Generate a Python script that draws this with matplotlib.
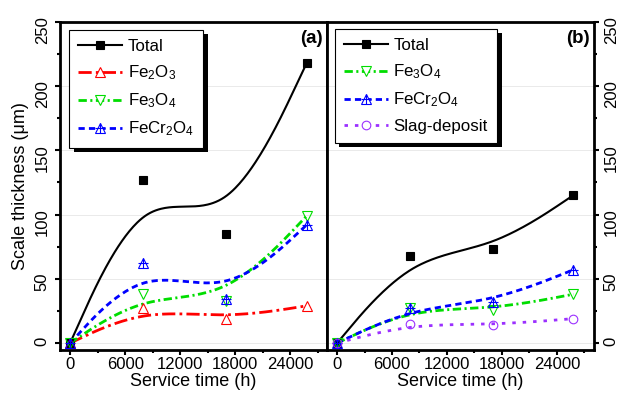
import numpy as np #Para arreglos
import matplotlib.pyplot as plt #Para graficar
from matplotlib.lines import Line2D #Para las entradas de la leyenda
from matplotlib.patches import Rectangle #Para la sombra de la leyenda
from matplotlib.transforms import IdentityTransform
from matplotlib.ticker import MultipleLocator

plt.rcParams["font.family"] = ["Liberation Sans", "DejaVu Sans"]
plt.rcParams["mathtext.fontset"] = "custom"
plt.rcParams["mathtext.rm"] = "Liberation Sans"
plt.rcParams["mathtext.default"] = "regular"
plt.rcParams["lines.scale_dashes"] = False #Guiones en puntos

# Datos
tiempo = [0, 8000, 17000, 25800] #Horas de servicio

total_a = [0, 127, 85, 218]
fe2o3_a = [0, 27, 19, 29]
fe3o4_a = [0, 38, 33, 99]
fecr2o4_a = [0, 62, 34, 92]

total_b = [0, 68, 73, 115]
fe3o4_b = [0, 27, 26, 38]
fecr2o4_b = [0, 27, 32, 57]
escoria_b = [0, 15, 14, 19]

ticks_x = [0, 6000, 12000, 18000, 24000]

def bspline(x, y, n=60): #B-spline cubica uniforme con extremos triplicados
    p = np.column_stack([x, y]).astype(float)
    p = np.vstack([p[:1], p[:1], p, p[-1:], p[-1:]])
    t = np.linspace(0, 1, n)[:, None]
    b0 = (1 - t)**3 / 6
    b1 = (3*t**3 - 6*t**2 + 4) / 6
    b2 = (-3*t**3 + 3*t**2 + 3*t + 1) / 6
    b3 = t**3 / 6
    tramos = [b0*p[i] + b1*p[i + 1] + b2*p[i + 2] + b3*p[i + 3] for i in range(len(p) - 3)]
    curva = np.vstack(tramos)
    return curva[:, 0], curva[:, 1]

def serie(ax, y, color, estilo, marcador, lw=2.0, ms=7.2, mfc="none", cruz=False):
    xs, ys = bspline(tiempo, y)
    ax.plot(xs, ys, color=color, lw=lw, linestyle=estilo, zorder=2)
    ax.plot(tiempo, y, ls="none", marker=marcador, ms=ms, mfc=mfc, mec=color, mew=0.8, zorder=3)
    if cruz:
        ax.plot(tiempo, y, ls="none", marker="+", ms=ms, color=color, mew=0.8, zorder=3)
    relleno = "white" if mfc == "none" else mfc
    h = Line2D([], [], color=color, lw=lw, linestyle=estilo, marker=marcador, ms=ms,
               mfc=relleno, mec=color, mew=0.8)
    if cruz:
        h = (h, Line2D([], [], ls="none", marker="+", ms=ms, color=color, mew=0.8))
    return h

rojo = "#FF0000"
verde = "#00DD00"
azul = "#0000FF"
morado = "#9B30FF"

est_rojo = (0, (9.5, 3, 2, 3))
est_verde = (0, (6, 2.5, 1.5, 2.5))
est_azul = (0, (4.5, 3))
est_morado = (0, (2.5, 5))

fig = plt.figure(figsize=(6.18, 3.94), dpi=100)
ax_a = fig.add_axes([60/618, 44.5/394, 267/618, 327.8/394])
ax_b = fig.add_axes([327/618, 44.5/394, 266.5/618, 327.8/394])

for ax in (ax_a, ax_b):
    ax.set_xlim(-1100, 28000)
    ax.set_ylim(-5, 250)
    ax.set_xticks(ticks_x)
    ax.xaxis.set_minor_locator(MultipleLocator(3000))
    ax.yaxis.set_major_locator(MultipleLocator(50))
    ax.yaxis.set_minor_locator(MultipleLocator(25))
    ax.tick_params(which="both", direction="out", width=1.5, labelsize=12)
    ax.tick_params(which="major", length=3.8)
    ax.tick_params(which="minor", length=2.3)
    ax.tick_params(axis="x", pad=1.5)
    ax.tick_params(axis="y", labelrotation=90, pad=3.5)
    for s in ax.spines.values():
        s.set_linewidth(2)
    ax.yaxis.grid(True, color="#e6e6e6", lw=0.6)
    ax.set_axisbelow(True)
    ax.set_xlabel("Service time (h)", fontsize=13, labelpad=1)

ax_b.tick_params(axis="y", which="both", left=False, right=True, labelleft=False, labelright=True)
ax_a.set_ylabel("Scale thickness (\u03bcm)", fontsize=13, labelpad=4)

# Panel (a)
h_a = [
    serie(ax_a, total_a, "black", "-", "s", lw=1.5, ms=5.3, mfc="black"),
    serie(ax_a, fe2o3_a, rojo, est_rojo, "^"),
    serie(ax_a, fe3o4_a, verde, est_verde, "v"),
    serie(ax_a, fecr2o4_a, azul, est_azul, "^", cruz=True),
]
nombres_a = ["Total", "Fe$_2$O$_3$", "Fe$_3$O$_4$", "FeCr$_2$O$_4$"]

# Panel (b)
h_b = [
    serie(ax_b, total_b, "black", "-", "s", lw=1.5, ms=5.3, mfc="black"),
    serie(ax_b, fe3o4_b, verde, est_verde, "v"),
    serie(ax_b, fecr2o4_b, azul, est_azul, "^", cruz=True),
    serie(ax_b, escoria_b, morado, est_morado, "o", ms=6.2),
]
nombres_b = ["Total", "Fe$_3$O$_4$", "FeCr$_2$O$_4$", "Slag-deposit"]

leyendas = []
for ax, h, n, ancla in ((ax_a, h_a, nombres_a, (0.034, 0.975)), (ax_b, h_b, nombres_b, (0.03, 0.978))):
    leg = ax.legend(h, n, loc="upper left", bbox_to_anchor=ancla, borderaxespad=0,
                    fontsize=12.2, fancybox=False, edgecolor="black", framealpha=1,
                    handlelength=2.6, handletextpad=0.3, borderpad=0.55, labelspacing=0.55)
    leg.get_frame().set_linewidth(0.8)
    leyendas.append((ax, leg))

ax_a.text(0.985, 0.95, "(a)", transform=ax_a.transAxes, ha="right", va="center",
          fontsize=13.5, fontweight="bold")
ax_b.text(0.987, 0.95, "(b)", transform=ax_b.transAxes, ha="right", va="center",
          fontsize=13.5, fontweight="bold")

# Sombra negra de la leyenda
fig.canvas.draw()
for ax, leg in leyendas:
    bb = leg.get_window_extent()
    ax.add_patch(Rectangle((bb.x0 + 4.5, bb.y0 - 4.5), bb.width, bb.height, transform=IdentityTransform(),
                           fc="black", ec="none", zorder=4.9, clip_on=False))

fig.savefig("out.png", dpi=100)
